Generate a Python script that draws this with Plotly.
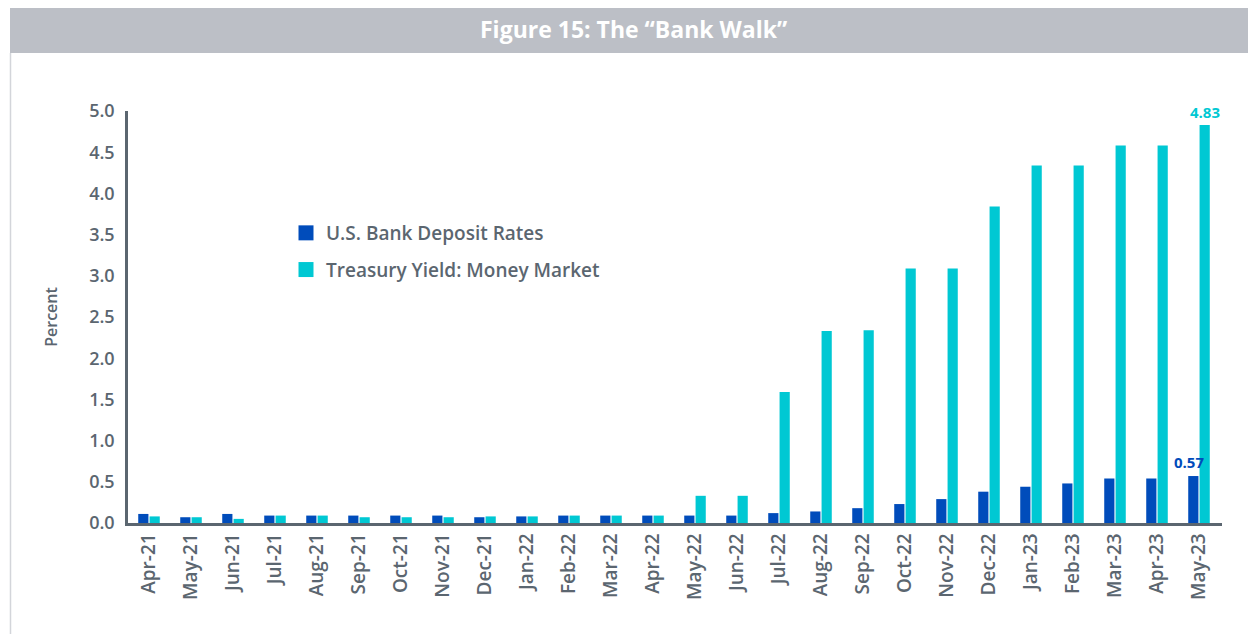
import plotly.graph_objects as go

months = ["Apr-21","May-21","Jun-21","Jul-21","Aug-21","Sep-21","Oct-21","Nov-21","Dec-21",
          "Jan-22","Feb-22","Mar-22","Apr-22","May-22","Jun-22","Jul-22","Aug-22","Sep-22",
          "Oct-22","Nov-22","Dec-22","Jan-23","Feb-23","Mar-23","Apr-23","May-23"]
deposit_rates = [0.11,0.07,0.11,0.09,0.09,0.09,0.09,0.09,0.07,0.08,0.09,0.09,0.09,0.09,0.09,
                 0.12,0.14,0.18,0.23,0.29,0.38,0.44,0.48,0.54,0.54,0.57]
treasury_yield = [0.08,0.07,0.05,0.09,0.09,0.07,0.07,0.07,0.08,0.08,0.09,0.09,0.09,0.33,0.33,
                  1.59,2.33,2.34,3.09,3.09,3.84,4.34,4.34,4.58,4.58,4.83]
y_ticks = [0.0,0.5,1.0,1.5,2.0,2.5,3.0,3.5,4.0,4.5,5.0]

BLUE = "#004CBB"
TEAL = "#00C8D3"
GRAY = "#5B6670"
FONT = "Open Sans"

OFF = 8  # page body margin
W, H = 1256 - OFF, 634 - OFF
L, R, T, B = 128 - OFF, 34, 111 - OFF, 111
pw, ph = W - L - R, H - T - B

def px(xp):
    return (xp - OFF - L) / pw

def py(yp):
    return (H - B - (yp - OFF)) / ph

fig = go.Figure()
fig.add_trace(go.Bar(x=months, y=deposit_rates, name="U.S. Bank Deposit Rates",
                     marker=dict(color=BLUE, line=dict(width=0)), showlegend=False))
fig.add_trace(go.Bar(x=months, y=treasury_yield, name="Treasury Yield: Money Market",
                     marker=dict(color=TEAL, line=dict(width=0)), showlegend=False))
# legend entries
fig.add_trace(go.Scatter(x=[None], y=[None], mode="markers", name="U.S. Bank Deposit Rates",
                         marker=dict(symbol="square", size=15, color=BLUE), legendgroup="a"))
fig.add_trace(go.Scatter(x=[None], y=[None], mode="markers", name="Treasury Yield: Money Market",
                         marker=dict(symbol="square", size=15, color=TEAL), legendgroup="b"))

fig.add_annotation(x=months[-1], y=treasury_yield[-1], text=f"<b>{treasury_yield[-1]:.2f}</b>",
                   showarrow=False, yanchor="bottom", xshift=6, yshift=1,
                   font=dict(family=FONT, size=15, color=TEAL))
fig.add_annotation(x=months[-1], y=deposit_rates[-1], text=f"<b>{deposit_rates[-1]:.2f}</b>",
                   showarrow=False, yanchor="bottom", xshift=-10, yshift=2,
                   font=dict(family=FONT, size=15, color=BLUE))

# title band
fig.add_shape(type="rect", xref="paper", yref="paper",
              x0=px(10), x1=px(1260), y0=py(53), y1=py(5),
              fillcolor="#BCBFC6", line=dict(width=0), layer="below")
# left frame line
fig.add_shape(type="line", xref="paper", yref="paper",
              x0=px(10.5), x1=px(10.5), y0=py(53), y1=py(640),
              line=dict(color="#D3D5DA", width=1.5))
fig.add_annotation(xref="paper", yref="paper", x=px(633), y=py(29),
                   text="<b>Figure 15: The “Bank Walk”</b>", showarrow=False,
                   xanchor="center", yanchor="middle",
                   font=dict(family=FONT, size=23, color="white"))

fig.update_layout(
    width=W, height=H,
    margin=dict(l=L, r=R, t=T, b=B, autoexpand=False),
    paper_bgcolor="white", plot_bgcolor="white",
    barmode="group", bargap=0.46, bargroupgap=0.1,
    font=dict(family=FONT, color=GRAY),
    showlegend=True,
    legend=dict(x=px(286), y=py(214), xanchor="left", yanchor="top",
                bgcolor="rgba(0,0,0,0)", tracegroupgap=9, traceorder="grouped",
                font=dict(family=FONT, size=19, color=GRAY, weight=600),
                itemwidth=30),
    xaxis=dict(type="category", showgrid=False, showline=True, linecolor=GRAY, linewidth=2.5,
               ticks="", tickangle=-90,
               tickfont=dict(family=FONT, size=19, color=GRAY, weight=600)),
    yaxis=dict(range=[0, 5], tickvals=y_ticks, tickformat=".1f", showgrid=False,
               zeroline=False, showline=True, linecolor=GRAY, linewidth=2.5, ticks="",
               ticklabelstandoff=7,
               tickfont=dict(family=FONT, size=18, color=GRAY, weight=600),
               title=dict(text="Percent", standoff=28,
                          font=dict(family=FONT, size=16, color=GRAY, weight=600))),
)

fig.write_html("out.html")
